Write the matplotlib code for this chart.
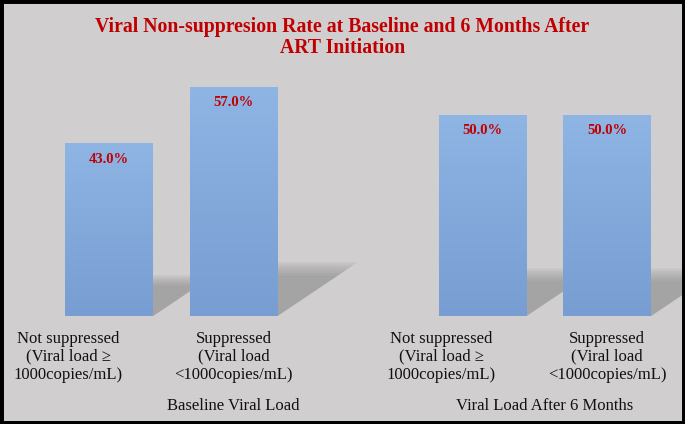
import numpy as np
import matplotlib.pyplot as plt
from matplotlib.patches import Polygon, Rectangle
from matplotlib.transforms import blended_transform_factory

# chart data
values = [43.0, 57.0, 50.0, 50.0]
positions = [0, 1, 3, 4]
cat_labels = ["Not suppressed\n(Viral load \u2265\n1000copies/mL)",
              "Suppressed\n(Viral load\n<1000copies/mL)",
              "Not suppressed\n(Viral load \u2265\n1000copies/mL)",
              "Suppressed\n(Viral load\n<1000copies/mL)"]
label_shift = [-29.5, 0, -29.5, 0]   # points, first label of each group sits left
group_labels = ["Baseline Viral Load", "Viral Load After 6 Months"]
group_x = [1, 3.5]
title = "Viral Non-suppresion Rate at Baseline and 6 Months After\nART Initiation"

BG = '#d0cecf'
RED = '#c00000'
plt.rcParams['font.family'] = ['Liberation Serif', 'DejaVu Serif']

W, H = 685, 424
fig = plt.figure(figsize=(W / 100, H / 100), dpi=100)
fig.patch.set_facecolor(BG)

# axes placed so that 0 sits at pixel row 316 and bars are 88 px wide
left_px, right_px, bot_px, top_px = 10, 675, 316, 70
ax = fig.add_axes([left_px / W, (H - bot_px) / H, (right_px - left_px) / W, (bot_px - top_px) / H])
ax.set_facecolor(BG)
unit = 124.5
px_per_y = 4.02
width = 88 / unit

# soft perspective shadows
for x, v in zip(positions, values):
    dx = 0.35 * v * px_per_y / unit
    dy = 0.235 * v
    for k in range(6):
        s = 1 - k * 0.05
        pts = [(x - width / 2, 0), (x + width / 2, 0),
               (x + width / 2 + dx * s, dy * s), (x - width / 2 + dx * s, dy * s)]
        ax.add_patch(Polygon(pts, closed=True, facecolor='#8e8e8e', edgecolor='none',
                             alpha=0.15, zorder=1, clip_on=False))

# bars with a vertical gradient
grad = np.linspace(0, 1, 256).reshape(-1, 1)
cmap = plt.matplotlib.colors.LinearSegmentedColormap.from_list('barg', ['#789dd2', '#8eb5e4'])
bars = ax.bar(positions, values, width=width, color='none', edgecolor='none', zorder=2)
for b in bars:
    x0 = b.get_x()
    h = b.get_height()
    im = ax.imshow(grad, cmap=cmap, origin='lower', aspect='auto',
                   extent=(x0, x0 + b.get_width(), 0, h), zorder=3)
    im.set_clip_path(b)

ax.set_xlim((left_px - 109) / unit, (right_px - 109) / unit)
ax.set_ylim(0, (bot_px - top_px) / px_per_y)
ax.axis('off')

for x, v in zip(positions, values):
    ax.annotate(f"{v:.1f}%", xy=(x, v), xytext=(0, -11.5), textcoords='offset points',
                ha='center', va='center', color=RED, fontweight='bold', fontsize=10.5, zorder=5)

tr = blended_transform_factory(ax.transData, ax.transAxes)
for x, lab, sh in zip(positions, cat_labels, label_shift):
    ax.annotate(lab, xy=(x, 0), xycoords=tr, xytext=(sh, -10.5), textcoords='offset points',
                ha='center', va='top', fontsize=12, linespacing=1.17, color='#111111',
                annotation_clip=False)
for gx, gl in zip(group_x, group_labels):
    ax.annotate(gl, xy=(gx, 0), xycoords=tr, xytext=(0, -67.5), textcoords='offset points',
                ha='center', va='baseline', fontsize=12, color='#111111',
                annotation_clip=False)

fig.text(0.5, 1 - 32 / H, "Viral Non-suppresion Rate at Baseline and 6 Months After",
         ha='center', va='baseline', color=RED, fontweight='bold', fontsize=14.2)
fig.text(0.5, 1 - 53 / H, "ART Initiation",
         ha='center', va='baseline', color=RED, fontweight='bold', fontsize=14.2)

# black frame round the whole picture
fig.patches.append(Rectangle((0, 0), 1, 1, transform=fig.transFigure, fill=False,
                             edgecolor='black', linewidth=5, zorder=10))

fig.savefig('out.png', dpi=100, facecolor=BG)
